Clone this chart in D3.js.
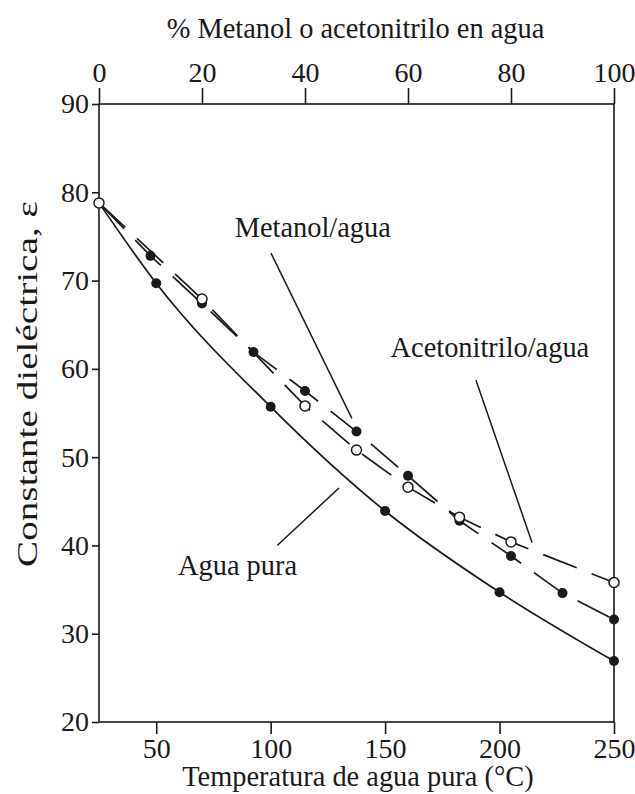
<!DOCTYPE html>
<html>
<head>
<meta charset="utf-8">
<script src="https://cdn.jsdelivr.net/npm/d3@7"></script>
<style>
  body { margin: 0; background: #fff; }
  text { font-family: "Liberation Serif", "DejaVu Serif", serif; fill: #1a1a1a; }
</style>
</head>
<body>
<svg id="chart" width="635" height="794"></svg>
<script>
// Axis ticks
const percentTicks = [0, 20, 40, 60, 80, 100];
const tempTicks = [50, 100, 150, 200, 250];
const epsTicks = [20, 30, 40, 50, 60, 70, 80, 90];

// Methanol / water mixtures (% methanol vs dielectric constant)
const metanolPct = [0, 10, 20, 30, 40, 50, 60, 70, 80, 90, 100];
const metanolEps = [78.8, 72.8, 67.4, 61.9, 57.5, 52.9, 47.9, 42.8, 38.8, 34.6, 31.6];

// Acetonitrile / water mixtures
const acetoPct = [0, 20, 40, 50, 60, 70, 80, 100];
const acetoEps = [78.8, 67.9, 55.8, 50.8, 46.6, 43.2, 40.4, 35.8];

// Pure water vs temperature (°C)
const aguaTemp = [25, 50, 100, 150, 200, 250];
const aguaEps = [78.8, 69.7, 55.7, 43.9, 34.7, 26.9];

// Callout labels and their leader lines, in (% , ε) units
const labelText = ["Metanol/agua", "Acetonitrilo/agua", "Agua pura"];
const labelPct = [41.5, 75.9, 26.9];
const labelEps = [74.9, 61.3, 36.6];
const leaderPct = [[33.4, 49.1], [73.2, 84.1], [34.6, 46.6]];
const leaderEps = [[73.1, 54.4], [58.7, 40.3], [40.0, 46.5]];

const svg = d3.select("#chart");
const plotL = 99, plotR = 614, plotT = 104, plotB = 722;

const xPct = d3.scaleLinear().domain([0, 100]).range([plotL, plotR]);
const xTemp = d3.scaleLinear().domain([25, 250]).range([plotL, plotR]);
const y = d3.scaleLinear().domain([20, 90]).range([plotB, plotT]);

const ink = "#1a1a1a";
const fs = 28.4;
const serif = '"Liberation Serif", "DejaVu Serif", serif';

// Frame
svg.append("rect")
  .attr("x", plotL).attr("y", plotT)
  .attr("width", plotR - plotL).attr("height", plotB - plotT)
  .attr("fill", "none").attr("stroke", ink).attr("stroke-width", 1.6);

function styleAxis(g) {
  g.attr("font-family", null).attr("font-size", null);
  g.select(".domain").remove();
  g.selectAll(".tick line").attr("stroke", ink).attr("stroke-width", 1.6);
  g.selectAll(".tick text")
    .style("font-family", serif)
    .style("font-size", "28px")
    .attr("fill", ink);
}

svg.append("g").attr("transform", `translate(0,${plotT})`)
  .call(d3.axisTop(xPct).tickValues(percentTicks).tickSize(16).tickPadding(6))
  .call(styleAxis);

svg.append("g").attr("transform", `translate(0,${plotB})`)
  .call(d3.axisBottom(xTemp).tickValues(tempTicks).tickSize(12).tickPadding(4))
  .call(styleAxis);

svg.append("g").attr("transform", `translate(${plotL},0)`)
  .call(d3.axisLeft(y).tickValues(epsTicks).tickSize(7).tickPadding(3))
  .call(styleAxis);

// Axis titles
svg.append("text")
  .attr("x", (plotL + plotR) / 2 - 1).attr("y", 38)
  .attr("text-anchor", "middle").style("font-size", fs + "px")
  .text("% Metanol o acetonitrilo en agua");

svg.append("text")
  .attr("x", 358).attr("y", 786)
  .attr("text-anchor", "middle").style("font-size", fs + "px")
  .text("Temperatura de agua pura (°C)");

svg.append("text")
  .attr("transform", `translate(37,384) rotate(-90)`)
  .attr("text-anchor", "middle").style("font-size", fs + "px")
  .attr("textLength", 366).attr("lengthAdjust", "spacingAndGlyphs")
  .text("Constante dieléctrica, ε");

// Series lines
const dash = "36,16";
const mixLine = d3.line().x(d => xPct(d[0])).y(d => y(d[1]));
const waterLine = d3.line().x(d => xTemp(d[0])).y(d => y(d[1])).curve(d3.curveMonotoneX);

const metanol = metanolPct.map((p, i) => [p, metanolEps[i]]);
const aceto = acetoPct.map((p, i) => [p, acetoEps[i]]);
const agua = aguaTemp.map((t, i) => [t, aguaEps[i]]);

svg.append("path").datum(agua).attr("d", waterLine)
  .attr("fill", "none").attr("stroke", ink).attr("stroke-width", 1.7);
svg.append("path").datum(metanol).attr("d", mixLine)
  .attr("fill", "none").attr("stroke", ink).attr("stroke-width", 1.7)
  .attr("stroke-dasharray", dash);
svg.append("path").datum(aceto).attr("d", mixLine)
  .attr("fill", "none").attr("stroke", ink).attr("stroke-width", 1.7)
  .attr("stroke-dasharray", dash);

// Markers (shared starting point drawn once, open)
const r = 5;
svg.append("g").selectAll("circle").data(agua.slice(1)).join("circle")
  .attr("cx", d => xTemp(d[0])).attr("cy", d => y(d[1])).attr("r", r).attr("fill", ink);
svg.append("g").selectAll("circle").data(metanol.slice(1)).join("circle")
  .attr("cx", d => xPct(d[0])).attr("cy", d => y(d[1])).attr("r", r).attr("fill", ink);
svg.append("g").selectAll("circle").data(aceto).join("circle")
  .attr("cx", d => xPct(d[0])).attr("cy", d => y(d[1])).attr("r", r)
  .attr("fill", "#fff").attr("stroke", ink).attr("stroke-width", 1.5);

// Callouts
labelText.forEach((t, i) => {
  svg.append("line")
    .attr("x1", xPct(leaderPct[i][0])).attr("y1", y(leaderEps[i][0]))
    .attr("x2", xPct(leaderPct[i][1])).attr("y2", y(leaderEps[i][1]))
    .attr("stroke", ink).attr("stroke-width", 1.5);
  svg.append("text")
    .attr("x", xPct(labelPct[i])).attr("y", y(labelEps[i]))
    .attr("text-anchor", "middle").style("font-size", fs + "px")
    .text(t);
});
</script>
</body>
</html>
